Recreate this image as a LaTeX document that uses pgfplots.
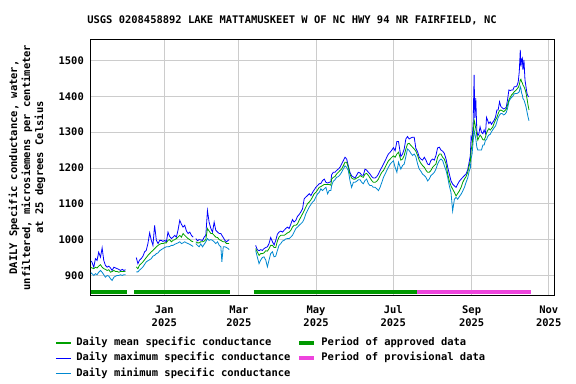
\documentclass[border=0pt]{standalone}
\usepackage{fontspec}
\setmainfont{DejaVu Sans Mono}[BoldFont={DejaVu Sans Mono Bold}]
\usepackage{pgfplots}
\pgfplotsset{compat=1.18}
\usepackage{pgfplotstable}
\definecolor{cmean}{HTML}{00A000}
\definecolor{cmax}{HTML}{0000FF}
\definecolor{cmin}{HTML}{0088D0}
\definecolor{capp}{HTML}{009900}
\definecolor{cprov}{HTML}{EE44DD}
\definecolor{cgrid}{HTML}{CCCCCC}
\newcommand{\ff}{\fontsize{10.5}{13}\selectfont\bfseries}

\pgfplotstableread{
d mn mx mi
-58.5 923 942 909
-57.2 921 937 905
-55.8 919 923 900
-54.5 923 947 905
-53.2 921 942 902
-51.9 926 965 909
-50.5 930 951 914
-49.2 923 977 909
-47.9 919 942 902
-46.6 917 928 895
-45.2 914 923 900
-43.9 916 926 898
-42.6 909 921 891
-41.3 911 914 886
-39.9 914 923 895
-38.6 911 921 898
-37.3 911 919 900
-36.0 909 917 900
-34.7 911 914 902
-33.3 911 917 900
-32.0 911 914 902
-30.7 912 916 902
-26 nan nan nan
-22.2 924 950 910
-20.9 919 933 910
-19.6 929 943 915
-18.3 933 947 919
-16.9 938 954 924
-15.6 944 966 931
-14.3 950 970 938
-13.0 956 989 941
-11.6 961 1019 944
-10.3 966 998 947
-9.0 970 984 954
-7.7 975 1040 956
-6.3 980 998 961
-5.0 984 989 963
-3.7 987 998 969
-2.4 989 998 972
-1.1 989 995 975
0.3 991 998 978
1.6 991 994 980
2.9 998 1021 980
4.2 1000 1009 981
5.6 994 1003 984
6.9 998 1007 984
8.2 1000 1012 987
9.5 1003 1007 989
10.8 1007 1026 991
12.2 1012 1054 994
13.5 1007 1043 989
14.8 1017 1035 991
16.1 1012 1040 994
17.5 1007 1024 991
18.8 1003 1017 989
20.1 1000 1021 987
21.4 996 1012 984
22.8 994 1007 981
23.8 nan nan nan
24.9 994 1003 989
26.2 991 997 984
27.5 991 1000 980
28.8 994 999 988
30.2 994 998 980
31.5 996 1007 987
32.8 1000 1012 994
34.1 1031 1081 1003
35.4 1024 1049 998
36.8 1017 1031 1000
38.1 1017 1021 998
39.4 1012 1049 994
40.7 1007 1026 989
42.1 1006 1021 994
43.4 1000 1017 984
44.7 998 1017 980
45.5 996 1012 938
46.6 994 1006 980
47.9 994 998 980
49.2 989 994 978
50.5 989 998 975
51.3 989 1000 972
60 nan nan nan
72.2 975 984 970
73.5 966 972 952
74.9 956 969 933
76.2 961 972 943
77.5 961 970 950
78.8 963 975 952
80.2 969 978 943
81.5 968 980 924
82.8 975 989 943
84.1 984 1006 961
85.5 984 994 966
86.8 978 985 952
88.1 978 998 954
89.4 996 1015 970
90.7 1007 1021 984
92.1 1012 1024 989
93.4 1012 1021 996
94.7 1012 1026 998
96.0 1015 1031 1002
97.4 1019 1035 1003
98.7 1021 1031 1003
100.0 1026 1043 1007
101.3 1035 1056 1012
102.6 1040 1049 1021
104.0 1040 1054 1031
105.3 1044 1065 1035
106.6 1054 1070 1040
107.9 1063 1077 1044
109.3 1072 1086 1049
110.6 1081 1114 1058
111.9 1091 1119 1072
113.2 1100 1123 1081
114.6 1105 1128 1091
115.9 1111 1123 1098
117.2 1119 1132 1105
118.5 1128 1139 1109
119.8 1132 1146 1119
121.2 1139 1151 1128
122.5 1146 1156 1132
123.8 1148 1157 1142
125.1 1151 1165 1137
126.5 1154 1169 1142
127.8 1154 1160 1146
129.1 1154 1158 1128
130.4 1154 1160 1137
131.7 1152 1162 1137
132.3 1169 1181 1151
133.6 1174 1188 1163
134.9 1176 1188 1167
136.2 1183 1193 1174
137.6 1188 1197 1176
138.9 1193 1202 1181
140.2 1197 1211 1188
141.5 1206 1220 1197
142.9 1216 1230 1206
144.2 1216 1225 1202
145.5 1202 1206 1193
146.8 1183 1188 1165
148.1 1172 1178 1146
149.5 1169 1175 1160
150.8 1169 1172 1160
152.1 1172 1180 1163
153.4 1174 1188 1167
154.8 1179 1186 1167
156.1 1176 1180 1160
157.4 1174 1180 1156
158.7 1183 1197 1165
160.0 1185 1194 1169
161.4 1179 1188 1156
162.7 1172 1183 1151
164.0 1165 1176 1151
165.3 1160 1172 1146
166.7 1160 1172 1146
168.0 1163 1176 1142
169.3 1169 1183 1137
170.6 1179 1193 1146
172.0 1188 1202 1160
173.3 1193 1211 1174
174.6 1202 1220 1183
175.9 1211 1230 1193
177.2 1220 1239 1202
178.6 1225 1244 1211
179.9 1230 1250 1216
181.2 1234 1257 1220
182.5 1230 1248 1202
183.9 1239 1274 1188
185.2 1244 1274 1216
187.0 1222 1232 1197
188.4 1225 1239 1207
189.7 1235 1253 1211
191.0 1253 1281 1232
192.3 1267 1288 1253
193.6 1269 1281 1249
195.0 1263 1284 1241
196.3 1258 1286 1235
197.6 1253 1286 1239
198.9 1247 1255 1232
200.3 1235 1245 1211
201.6 1221 1230 1197
202.9 1213 1225 1191
204.2 1207 1222 1183
205.6 1202 1230 1179
206.9 1194 1222 1174
208.2 1188 1211 1164
209.5 1188 1209 1169
210.8 1193 1221 1179
212.2 1202 1225 1183
213.5 1207 1222 1188
214.8 1211 1235 1197
216.1 1230 1256 1211
217.5 1239 1258 1221
218.8 1239 1250 1225
220.1 1230 1247 1221
221.4 1225 1241 1207
222.8 1211 1225 1193
224.1 1183 1202 1174
225.4 1164 1183 1150
226.7 1150 1164 1132
228.0 1141 1155 1080
229.4 1132 1150 1113
230.7 1122 1146 1118
232.0 1129 1155 1113
233.3 1136 1163 1120
234.7 1146 1169 1127
236.0 1160 1174 1136
237.3 1169 1179 1146
238.6 1176 1183 1160
239.9 1188 1195 1172
241.0 1205 1215 1190
242.0 1220 1235 1200
242.6 1250 1287 1226
243.4 1264 1278 1240
244.2 1296 1324 1273
245.0 1334 1460 1306
245.5 1326 1340 1296
246.3 1310 1395 1282
247.1 1292 1305 1259
247.9 1278 1290 1250
248.7 1285 1295 1250
249.7 1292 1315 1250
250.8 1287 1300 1250
251.9 1279 1296 1264
252.9 1278 1306 1264
254.0 1287 1296 1278
254.8 1298 1341 1279
255.6 1304 1334 1287
256.6 1310 1324 1292
257.7 1306 1329 1294
258.7 1310 1322 1301
259.8 1315 1328 1307
260.9 1326 1334 1313
261.9 1334 1342 1317
263.0 1341 1362 1329
264.0 1352 1362 1341
265.1 1360 1385 1348
266.1 1362 1372 1352
267.2 1360 1368 1352
268.3 1357 1365 1348
269.3 1360 1366 1350
270.4 1364 1370 1355
271.4 1376 1390 1366
272.5 1390 1418 1385
273.5 1397 1416 1392
274.6 1404 1418 1397
275.7 1408 1418 1401
276.7 1413 1427 1407
277.8 1416 1427 1408
278.8 1420 1429 1408
279.9 1425 1441 1410
280.7 1432 1469 1413
281.5 1446 1530 1427
282.0 1448 1483 1422
282.5 1441 1502 1410
283.1 1438 1507 1404
283.6 1432 1474 1394
284.4 1427 1502 1390
285.2 1420 1446 1381
286.0 1410 1427 1371
286.8 1394 1408 1357
287.6 1376 1401 1343
288.4 1362 1399 1332
}\cond

\begin{document}
\begin{tikzpicture}
\path[use as bounding box] (-91bp,-88.3bp) rectangle (485bp,295.7bp);
\begin{axis}[
  name=ax,
  anchor=south west, at={(0,0)},
  scale only axis,
  width=463.3bp, height=256.4bp,
  xmin=-58, xmax=308.4,
  ymin=843.5, ymax=1559.3,
  unbounded coords=jump,
  xtick={0,59,120,181,243,304},
  xticklabels={{Jan\\2025},{Mar\\2025},{May\\2025},{Jul\\2025},{Sep\\2025},{Nov\\2025}},
  ytick={900,1000,1100,1200,1300,1400,1500},
  /pgf/number format/assume math mode=true,
  /pgf/number format/set thousands separator={},
  tick label style={font=\ff},
  xticklabel style={align=center, inner sep=0pt, yshift=-10bp},
  yticklabel style={inner sep=0pt, xshift=-7bp},
  major tick length=0pt,
  grid=major,
  major grid style={draw=cgrid, line width=0.9bp},
  axis line style={black, line width=1bp},
  legend columns=2,
  legend cell align=left,
  legend image code/.code={\draw[#1] (0bp,0bp) -- (15bp,0bp);},
  legend style={at={(-0.0777,-0.154)}, anchor=north west, draw=none, fill=none,
    font=\ff, inner sep=0pt, row sep=0pt,
    nodes={inner xsep=0pt, inner ysep=2.3bp, text height=8bp, text depth=2.6bp},
    /tikz/every odd column/.append style={column sep=5bp},
    /tikz/every even column/.append style={column sep=7bp}},
]
\addlegendimage{cmean, line width=1.1bp}\addlegendentry{Daily mean specific conductance}
\addlegendimage{capp, line width=4bp}\addlegendentry{Period of approved data}
\addlegendimage{cmax, line width=1.1bp}\addlegendentry{Daily maximum specific conductance}
\addlegendimage{cprov, line width=4bp}\addlegendentry{Period of provisional data}
\addlegendimage{cmin, line width=1.1bp}\addlegendentry{Daily minimum specific conductance}

\addplot[forget plot, cmax, line width=0.8bp, no markers] table[x=d, y=mx] {\cond};
\addplot[forget plot, cmin, line width=0.8bp, no markers] table[x=d, y=mi] {\cond};
\addplot[forget plot, cmean, line width=0.8bp, no markers] table[x=d, y=mn] {\cond};

\addplot[forget plot, capp, line width=4bp, no markers] coordinates {(-58.5,855) (-29.6,855)};
\addplot[forget plot, capp, line width=4bp, no markers] coordinates {(-23.8,855) (51.6,855)};
\addplot[forget plot, capp, line width=4bp, no markers] coordinates {(70.6,855) (199.8,855)};
\addplot[forget plot, cprov, line width=4bp, no markers] coordinates {(199.8,855) (289.7,855)};
\end{axis}
\node[font=\ff] at ([xshift=201bp, yshift=275.7bp]ax.south west) {USGS 0208458892 LAKE MATTAMUSKEET W OF NC HWY 94 NR FAIRFIELD, NC};
\node[font=\ff, rotate=90, align=center] at ([xshift=-64bp, yshift=128.2bp]ax.south west) {DAILY Specific conductance, water,\\unfiltered, microsiemens per centimeter\\at 25 degrees Celsius};
\end{tikzpicture}
\end{document}
